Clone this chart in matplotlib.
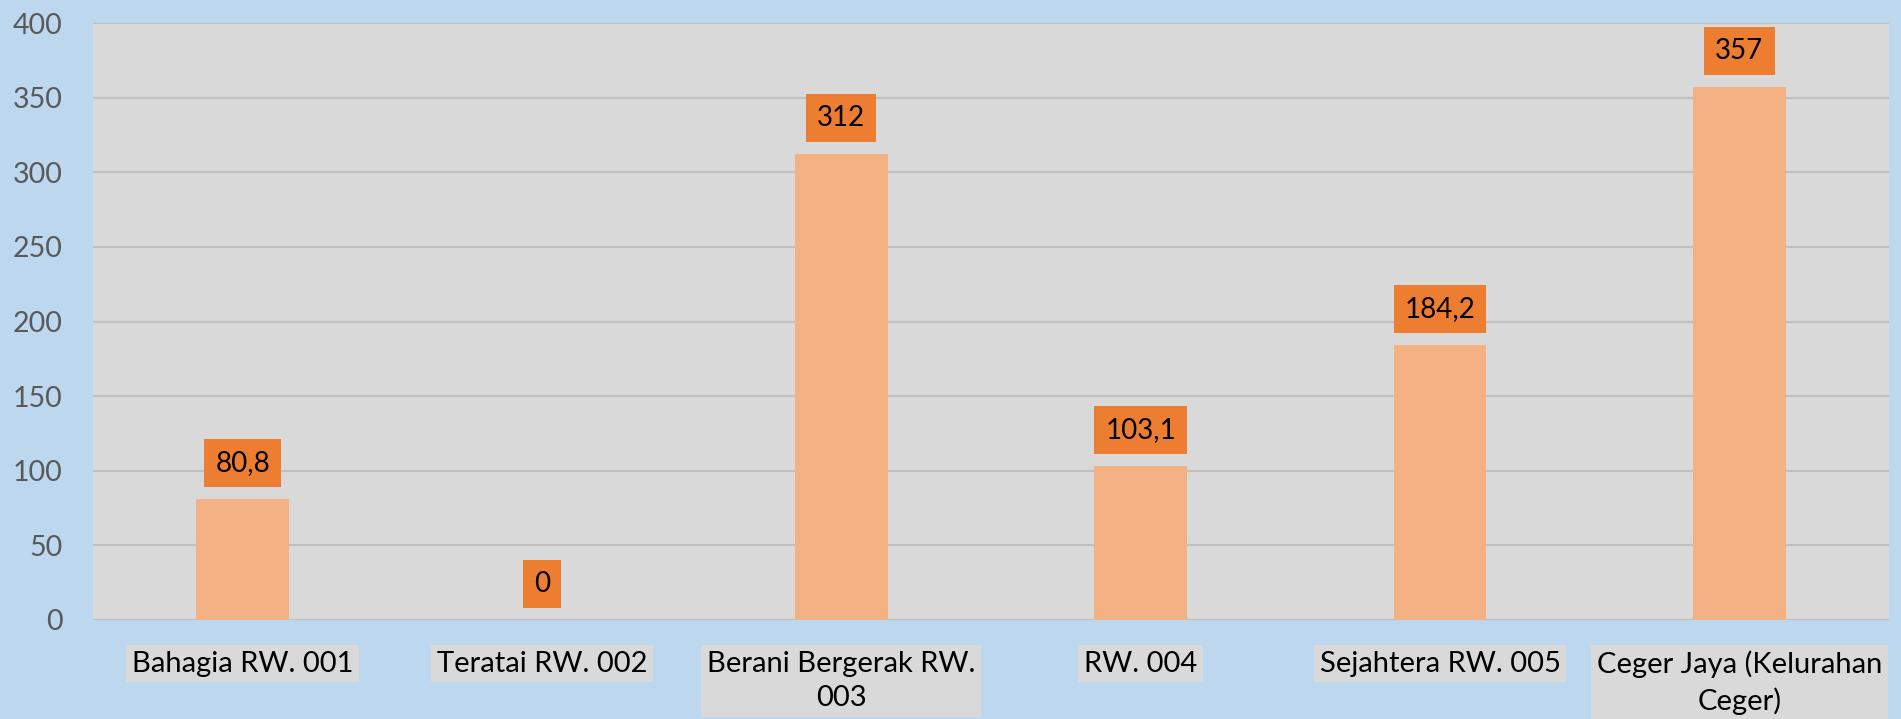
import matplotlib
matplotlib.use("Agg")
import matplotlib.pyplot as plt

categories = ["Bahagia RW. 001", "Teratai RW. 002", "Berani Bergerak RW.\n003",
              "RW. 004", "Sejahtera RW. 005", "Ceger Jaya (Kelurahan\nCeger)"]
values = [80.8, 0, 312, 103.1, 184.2, 357]
value_labels = ["80,8", "0", "312", "103,1", "184,2", "357"]
yticks = [0, 50, 100, 150, 200, 250, 300, 350, 400]

plt.rcParams['font.family'] = ['Lato', 'DejaVu Sans']

fig = plt.figure(figsize=(19.01, 7.19), dpi=100)
fig.patch.set_facecolor('#BDD7EE')
ax = fig.add_axes([0.0489, 0.1377, 0.9448, 0.8303])
ax.set_facecolor('#D9D9D9')

x = list(range(len(categories)))
ax.bar(x, values, width=0.31, color='#F4B183', zorder=3)

for xi, v, lab in zip(x, values, value_labels):
    ax.annotate(lab, (xi, v), xytext=(0, 26), textcoords='offset points',
                ha='center', va='center', fontsize=20, color='black', zorder=4,
                bbox=dict(boxstyle='square,pad=0.4', facecolor='#ED7D31', edgecolor='none'))

ax.set_xlim(-0.5, len(categories) - 0.5)
ax.set_ylim(0, 400)
ax.set_yticks(yticks)
ax.yaxis.grid(True, color='#BFBFBF', linewidth=1.5, zorder=0)
ax.set_axisbelow(True)
for s in ax.spines.values():
    s.set_visible(False)

ax.set_xticks(x)
ax.set_xticklabels(categories, fontsize=21, color='black', linespacing=1.4)
for t in ax.get_xticklabels():
    t.set_bbox(dict(boxstyle='square,pad=0.2', facecolor='#D9D9D9', edgecolor='none'))
ax.tick_params(axis='x', length=0, pad=22)
ax.tick_params(axis='y', length=0, pad=22, labelsize=20.5, labelcolor='#595959')

fig.savefig('out.png', dpi=100, facecolor=fig.get_facecolor())
